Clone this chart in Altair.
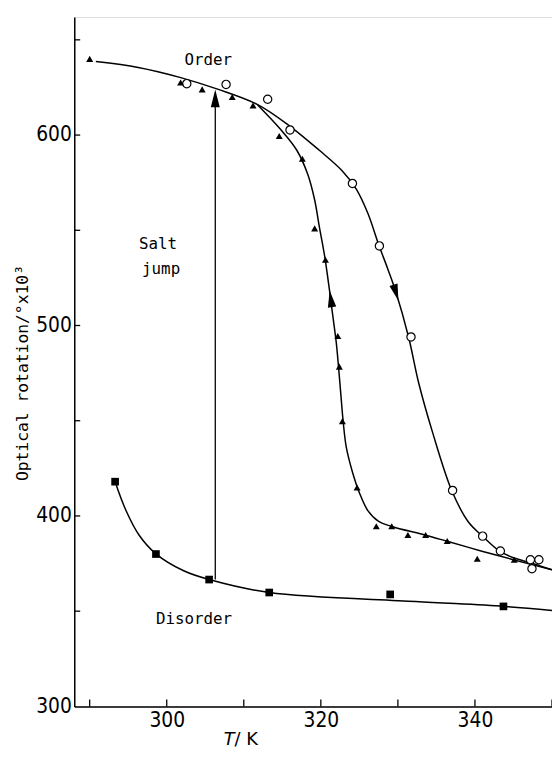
import altair as alt
import pandas as pd

# ---- data ----
# Order -> disorder curve (open circles, cooling, arrow down)
curveA_x = [290.8, 296.3, 301.7, 306.6, 311.8, 316.0, 319.8, 322.7, 324.6, 326.1, 327.5, 328.7,
            329.7, 331.4, 332.7, 334.5, 337.0, 339.1, 341.0, 343.2, 345.1, 347.7, 350.0]
curveA_y = [638.6, 635.5, 630.3, 624.1, 616.0, 604.6, 592.0, 581.5, 571.6, 558.9, 542.5, 529.6,
            518.1, 493.7, 469.8, 443.9, 413.2, 397.1, 389.3, 381.5, 377.9, 374.8, 371.7]
# Heating curve (filled triangles, arrow up)
curveB_x = [311.8, 314.7, 316.9, 318.3, 319.2, 319.8, 320.5, 321.1, 321.6, 322.0, 322.3, 322.6,
            322.9, 323.3, 324.1, 325.0, 326.1, 327.5, 329.2, 333.6, 336.4, 340.9, 345.1, 350.0]
curveB_y = [615.8, 603.3, 591.9, 579.4, 565.9, 551.9, 536.3, 519.2, 503.6, 491.1, 478.1, 463.6,
            449.6, 436.1, 423.1, 412.2, 402.8, 397.1, 394.5, 389.9, 386.7, 381.5, 376.9, 371.7]
# Disorder curve (filled squares)
dis_x = [293.3, 294.7, 296.4, 298.6, 302.2, 305.5, 313.3, 332.3, 343.8, 350.0]
dis_y = [418.0, 403.0, 390.0, 380.1, 371.2, 366.6, 359.8, 355.1, 352.5, 350.4]

tri_x = [290.0, 301.8, 304.6, 308.5, 311.2, 314.6, 317.6, 319.2, 320.6, 322.2, 322.4,
         322.8, 324.7, 327.2, 329.2, 331.3, 333.6, 336.4, 340.3, 345.1]
tri_y = [640.0, 627.6, 624.0, 620.0, 615.6, 599.5, 587.6, 551.0, 534.5, 494.5, 478.4,
         449.8, 414.9, 394.6, 394.6, 390.0, 390.0, 386.8, 377.5, 377.0]

circ_x = [302.6, 307.7, 313.1, 316.0, 324.1, 327.6, 331.7, 337.1, 341.0, 343.3, 347.2, 348.3, 347.4]
circ_y = [627.0, 626.6, 618.8, 602.7, 574.6, 541.8, 494.0, 413.4, 389.4, 381.6, 377.0, 377.0, 372.3]

sq_x = [293.3, 298.6, 305.5, 313.3, 329.0, 343.7]
sq_y = [418.0, 380.0, 366.6, 359.8, 358.8, 352.5]

# salt jump
jump_x = [306.3]
jump_y = [366.6]
jump_y2 = [616.0]
jump_tip_y = [619.3]
# arrows on curves
arrowA = (329.75, 517.2)
arrowB = (321.3, 514.0)

ann_text = ["Order", "Salt", "jump", "Disorder"]
ann_x = [302.3, 296.4, 296.8, 298.6]
ann_y = [637.0, 540.2, 527.2, 343.2]

x_labels = [300, 320, 340]
x_ticks = [290, 300, 310, 320, 330, 340, 350]
y_labels = [300, 400, 500, 600]
y_ticks = [350, 400, 450, 500, 550, 600, 650]

# ---- chart ----
W, H = 483, 697
FONT = "DejaVu Sans Mono"
TICKFONT = "Liberation Sans Narrow, DejaVu Sans Condensed, Liberation Sans"

xscale = alt.Scale(domain=[288, 350], nice=False, zero=False)
yscale = alt.Scale(domain=[300, 662], nice=False, zero=False)
xaxis = alt.Axis(values=x_labels, ticks=False, grid=False, title=None, labelPadding=3,
                 labelFontSize=21, labelFont=TICKFONT, labelColor="black",
                 domainColor="black", domainWidth=1.5)
yaxis = alt.Axis(values=y_labels, ticks=False, grid=False, title=None, labelPadding=3,
                 labelFontSize=21, labelFont=TICKFONT, labelColor="black",
                 domainColor="black", domainWidth=1.5)


def X(f):
    return alt.X(f, type="quantitative", scale=xscale, axis=xaxis)


def Y(f):
    return alt.Y(f, type="quantitative", scale=yscale, axis=yaxis)


rows = []
for name, xs, ys in [("A", curveA_x, curveA_y), ("B", curveB_x, curveB_y), ("D", dis_x, dis_y)]:
    for i, (a, b) in enumerate(zip(xs, ys)):
        rows.append({"x": a, "y": b, "curve": name, "o": i})
df_lines = pd.DataFrame(rows)

lines = alt.Chart(df_lines).mark_line(color="black", strokeWidth=1.5, interpolate="catmull-rom").encode(
    x=X("x"), y=Y("y"), detail="curve:N", order="o:Q")

df_jump = pd.DataFrame({"x": jump_x, "y": jump_y, "y2": jump_y2, "yt": jump_tip_y})
jump = alt.Chart(df_jump).mark_rule(color="black", strokeWidth=1.3).encode(
    x=X("x"), y=Y("y"), y2="y2:Q")

ARROW = "M0,-1L0.5,1L-0.5,1Z"
jump_head = alt.Chart(df_jump).mark_point(shape=ARROW, filled=True, color="black", opacity=1,
                                           size=324, angle=0).encode(x=X("x"), y=Y("yt"))
headA = alt.Chart(pd.DataFrame({"x": [arrowA[0]], "y": [arrowA[1]]})).mark_point(
    shape=ARROW, filled=True, color="black", opacity=1, size=289, angle=163).encode(x=X("x"), y=Y("y"))
headB = alt.Chart(pd.DataFrame({"x": [arrowB[0]], "y": [arrowB[1]]})).mark_point(
    shape=ARROW, filled=True, color="black", opacity=1, size=289, angle=352).encode(x=X("x"), y=Y("y"))

tris = alt.Chart(pd.DataFrame({"x": tri_x, "y": tri_y})).mark_point(
    shape="triangle-up", filled=True, color="black", opacity=1, size=50).encode(x=X("x"), y=Y("y"))
circs = alt.Chart(pd.DataFrame({"x": circ_x, "y": circ_y})).mark_point(
    shape="circle", filled=False, fill="white", fillOpacity=1, stroke="black", opacity=1,
    strokeWidth=1.2, size=70).encode(x=X("x"), y=Y("y"))
sqs = alt.Chart(pd.DataFrame({"x": sq_x, "y": sq_y})).mark_point(
    shape="square", filled=True, color="black", opacity=1, size=60).encode(x=X("x"), y=Y("y"))

yt = alt.Chart(pd.DataFrame({"v": y_ticks})).mark_rule(color="black", strokeWidth=1.3).encode(
    y=Y("v"), x=alt.value(0), x2=alt.value(6))
xt = alt.Chart(pd.DataFrame({"v": x_ticks})).mark_rule(color="black", strokeWidth=1.3).encode(
    x=X("v"), y=alt.value(H), y2=alt.value(H - 7))

ann = alt.Chart(pd.DataFrame({"t": ann_text, "x": ann_x, "y": ann_y})).mark_text(
    font=FONT, fontSize=16, align="left", baseline="alphabetic", color="black").encode(
    x=X("x"), y=Y("y"), text="t:N")

ytitle = alt.Chart(pd.DataFrame({"t": ["Optical rotation/°x10³"]})).mark_text(
    font=FONT, fontSize=16.5, angle=270, align="center", baseline="middle", color="black").encode(
    x=alt.value(-52), y=alt.value(360), text="t:N")
xtitle1 = alt.Chart(pd.DataFrame({"t": ["T"]})).mark_text(
    font="DejaVu Sans", fontSize=18, fontStyle="italic", align="right", baseline="alphabetic",
    color="black").encode(x=alt.value(162), y=alt.value(736), text="t:N")
xtitle2 = alt.Chart(pd.DataFrame({"t": ["/ K"]})).mark_text(
    font="DejaVu Sans", fontSize=18, align="left", baseline="alphabetic", color="black").encode(
    x=alt.value(162), y=alt.value(736), text="t:N")

chart = alt.layer(lines, jump, jump_head, headA, headB, circs, tris, sqs, yt, xt, ann,
                  ytitle, xtitle1, xtitle2).properties(
    width=W, height=H,
    autosize=alt.AutoSizeParams(type="none"),
    padding={"left": 67, "top": 5, "right": 0, "bottom": 40},
).configure_view(stroke=None).configure(background="white")

chart.save("out.html", embed_options={"renderer": "svg", "actions": False})
